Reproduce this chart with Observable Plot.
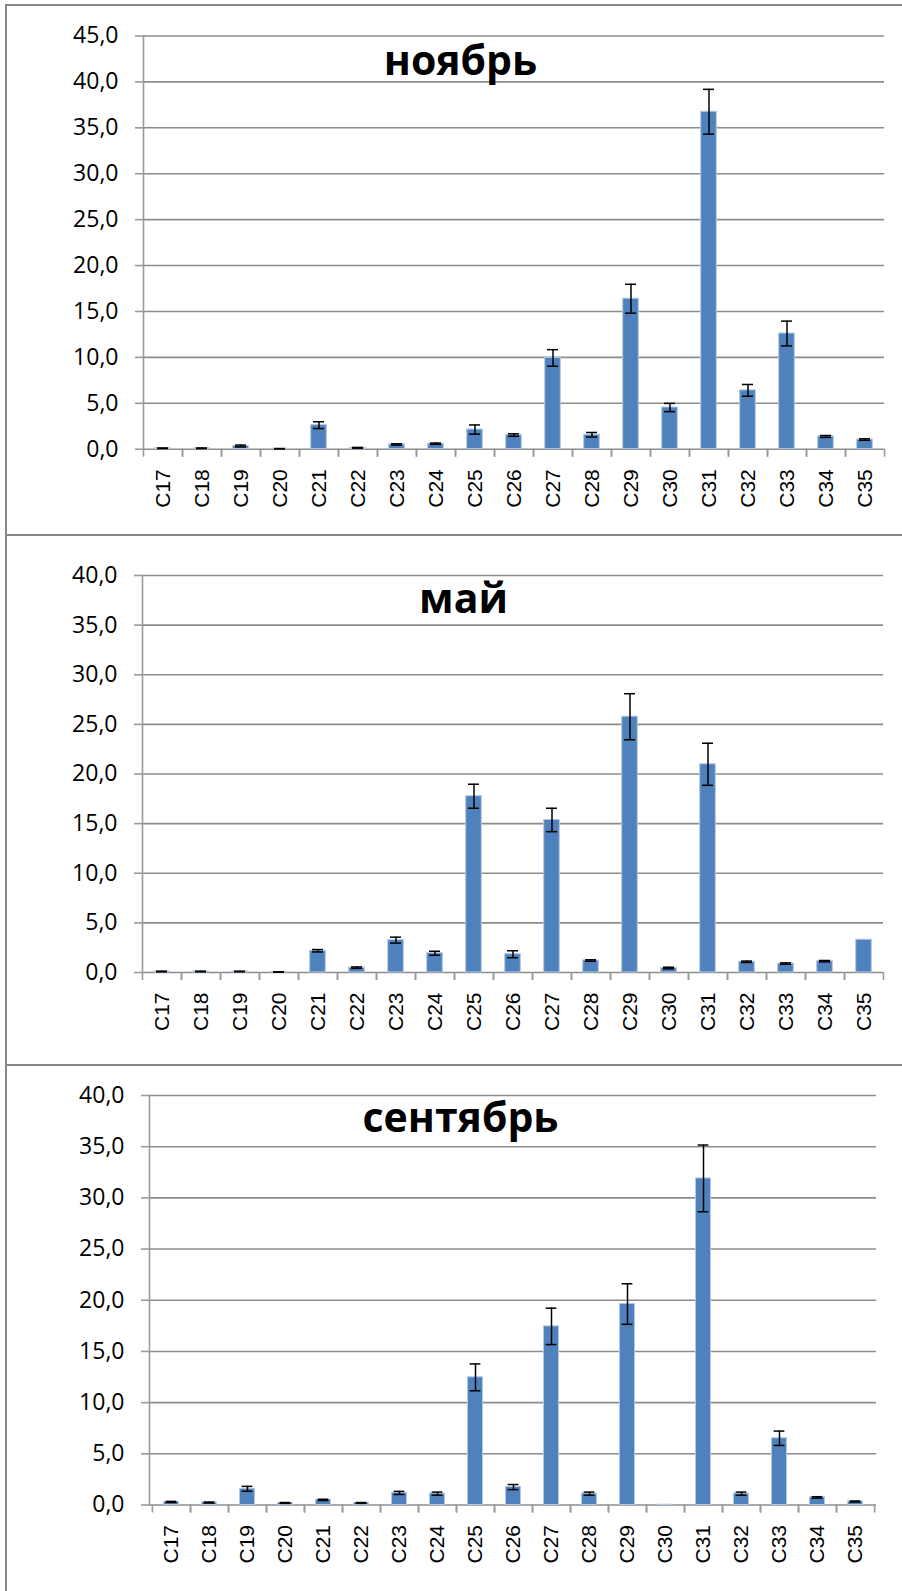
<!DOCTYPE html>
<html>
<head>
<meta charset="utf-8">
<script src="https://cdn.jsdelivr.net/npm/d3@7"></script>
<script src="https://cdn.jsdelivr.net/npm/@observablehq/plot@0.6"></script>
<style>
  html, body { margin: 0; padding: 0; background: #fff; }
  #wrap { position: relative; width: 902px; height: 1591px; overflow: hidden; background: #fff; }
  .panel { position: absolute; left: 0; }
  .line { position: absolute; background: #878787; }
</style>
</head>
<body>
<div id="wrap"></div>
<script>
// ---- data ----
const categories = ["C17","C18","C19","C20","C21","C22","C23","C24","C25","C26","C27","C28","C29","C30","C31","C32","C33","C34","C35"];

const titles = ["ноябрь", "май", "сентябрь"];

const novValues = [0.1, 0.1, 0.35, 0.05, 2.62, 0.15, 0.52, 0.6, 2.14, 1.54, 9.94, 1.57, 16.39, 4.54, 36.75, 6.41, 12.6, 1.39, 1.05];
const novErrors = [0.03, 0.03, 0.1, 0.02, 0.37, 0.04, 0.07, 0.07, 0.5, 0.13, 0.9, 0.25, 1.57, 0.45, 2.44, 0.64, 1.35, 0.1, 0.08];

const mayValues = [0.1, 0.1, 0.1, 0.05, 2.19, 0.49, 3.26, 1.94, 17.76, 1.84, 15.37, 1.21, 25.77, 0.45, 20.98, 1.08, 0.9, 1.14, 3.3];
const mayErrors = [0.03, 0.03, 0.03, 0.02, 0.12, 0.07, 0.3, 0.2, 1.21, 0.35, 1.18, 0.07, 2.32, 0.08, 2.12, 0.07, 0.07, 0.07, 0];

const sepValues = [0.3, 0.24, 1.58, 0.2, 0.5, 0.2, 1.18, 1.11, 12.47, 1.75, 17.45, 1.11, 19.63, 0.03, 31.9, 1.11, 6.52, 0.74, 0.34];
const sepErrors = [0.05, 0.05, 0.24, 0.04, 0.06, 0.04, 0.15, 0.15, 1.31, 0.25, 1.78, 0.15, 1.98, 0, 3.26, 0.15, 0.7, 0.07, 0.05];

const yMaxes = [45, 40, 40];
const yTicks = [0, 5, 10, 15, 20, 25, 30, 35, 40, 45];

// ---- layout ----
const W = 902;
const layouts = [
  {top: 5,    h: 530, mT: 30.5, mB: 86.3, mL: 143, mR: 18, titleX: 460, titleBase: 74},
  {top: 535,  h: 530, mT: 40,   mB: 93,   mL: 142, mR: 19, titleX: 463, titleBase: 612},
  {top: 1065, h: 526, mT: 30,   mB: 86.5, mL: 149, mR: 26, titleX: 460, titleBase: 1131}
];

const wrap = document.getElementById("wrap");
const series = [[novValues, novErrors], [mayValues, mayErrors], [sepValues, sepErrors]];
const fmt = d => d.toFixed(1).replace(".", ",");

series.forEach(([vals, errs], k) => {
  const L = layouts[k];
  const yMax = yMaxes[k];
  const rows = categories.map((c, i) => ({cat: c, v: vals[i], e: errs[i]}));
  const withErr = rows.filter(d => d.e > 0);
  const step = (W - L.mL - L.mR) / categories.length;
  const barInset = step * 0.3;
  const capInset = (step - 11) / 2;
  const ticks = yTicks.filter(t => t <= yMax);

  const chart = Plot.plot({
    width: W,
    height: L.h,
    marginTop: L.mT,
    marginBottom: L.mB,
    marginLeft: L.mL,
    marginRight: L.mR,
    x: {domain: categories, padding: 0},
    y: {domain: [0, yMax]},
    marks: [
      Plot.gridY(ticks, {stroke: "#8c8c8c", strokeOpacity: 1, strokeWidth: 1.6}),
      Plot.barY(rows, {x: "cat", y: "v", fill: "#4F81BD", stroke: "#b3c8e3", strokeWidth: 1, insetLeft: barInset, insetRight: barInset}),
      Plot.ruleX(withErr, {x: "cat", y1: d => d.v - d.e, y2: d => d.v + d.e, stroke: "#000", strokeWidth: 1.5}),
      Plot.tickY(withErr, {x: "cat", y: d => d.v + d.e, stroke: "#000", strokeWidth: 1.5, insetLeft: capInset, insetRight: capInset}),
      Plot.tickY(withErr, {x: "cat", y: d => d.v - d.e, stroke: "#000", strokeWidth: 1.5, insetLeft: capInset, insetRight: capInset}),
      Plot.frame({anchor: "left", stroke: "#9a9a9a", strokeWidth: 1.6}),
      Plot.axisY({ticks, tickSize: 8, tickPadding: 17, tickFormat: fmt, fontSize: 23, fontFamily: "Open Sans", stroke: "#9a9a9a", strokeWidth: 1.6, fill: "#000", label: null}),
      Plot.axisX({tickSize: 0, tickPadding: 20, tickRotate: -90, fontSize: 21, fontFamily: "Liberation Sans", fill: "#000", label: null}),
      Plot.axisX({tickSize: 8, text: null, dx: step / 2, stroke: "#9a9a9a", strokeWidth: 1.6, label: null}),
      Plot.axisX({tickSize: 8, text: null, dx: -step / 2, stroke: "#9a9a9a", strokeWidth: 1.6, label: null}),
      Plot.text([titles[k]], {
        frameAnchor: "top-left",
        dx: L.titleX - L.mL,
        dy: L.titleBase - (L.top + L.mT),
        lineAnchor: "bottom",
        textAnchor: "middle",
        fontSize: 41,
        fontWeight: "bold",
        fontFamily: "Open Sans",
        fill: "#000"
      })
    ]
  });
  const div = document.createElement("div");
  div.className = "panel";
  div.style.top = L.top + "px";
  div.appendChild(chart);
  wrap.appendChild(div);
});

// panel border lines
function line(x, y, w, h) {
  const d = document.createElement("div");
  d.className = "line";
  d.style.left = x + "px"; d.style.top = y + "px";
  d.style.width = w + "px"; d.style.height = h + "px";
  wrap.appendChild(d);
}
line(5, 4, 897, 2);
line(5, 534, 897, 2);
line(5, 1064, 897, 2);
line(5, 4, 2, 1587);
</script>
</body>
</html>
